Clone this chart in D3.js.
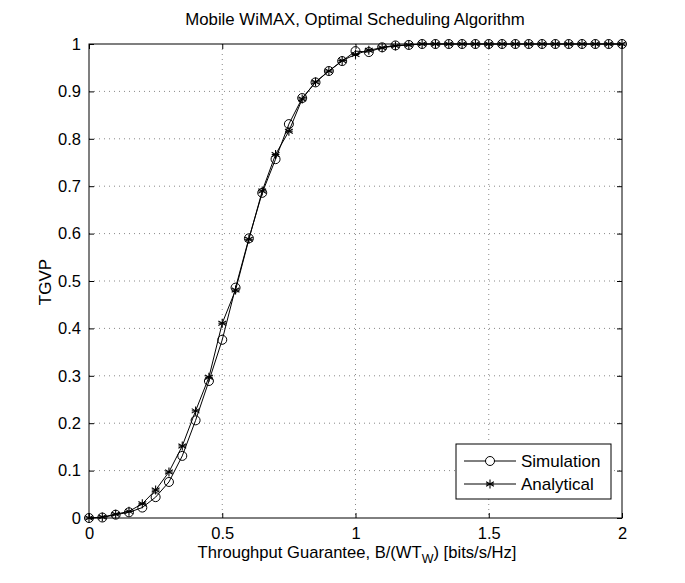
<!DOCTYPE html>
<html><head><meta charset="utf-8">
<script src="https://cdn.jsdelivr.net/npm/d3@7"></script>
<style>body{margin:0;background:#fff}svg{display:block}text{font-family:"Liberation Sans",Arial,sans-serif;fill:#000}</style>
</head><body><svg id="c" width="685" height="583"></svg>
<script>
const xValues = [0,0.05,0.1,0.15,0.2,0.25,0.3,0.35,0.4,0.45,0.5,0.55,0.6,0.65,0.7,0.75,0.8,0.85,0.9,0.95,1.0,1.05,1.1,1.15,1.2,1.25,1.3,1.35,1.4,1.45,1.5,1.55,1.6,1.65,1.7,1.75,1.8,1.85,1.9,1.95,2.0];
const simulation = [0,0.001,0.007,0.012,0.022,0.044,0.076,0.131,0.206,0.289,0.376,0.486,0.59,0.686,0.757,0.831,0.886,0.919,0.943,0.964,0.985,0.983,0.993,0.997,0.998,1,1,1,1,1,1,1,1,1,1,1,1,1,1,1,1];
const analytical = [0,0.002,0.008,0.014,0.03,0.059,0.097,0.152,0.226,0.297,0.411,0.481,0.588,0.69,0.767,0.816,0.884,0.92,0.943,0.965,0.978,0.987,0.992,0.996,0.998,1,1,1,1,1,1,1,1,1,1,1,1,1,1,1,1];
const xTicks = [0,0.5,1,1.5,2];
const yTicks = [0,0.1,0.2,0.3,0.4,0.5,0.6,0.7,0.8,0.9,1];
const seriesNames = ["Simulation","Analytical"];
const title = "Mobile WiMAX, Optimal Scheduling Algorithm";

const svg = d3.select("#c");
const L=89,R=622,T=44,B=518;
const x = d3.scaleLinear().domain([0,2]).range([L,R]);
const y = d3.scaleLinear().domain([0,1]).range([B,T]);

// grid
const g = svg.append("g");
g.selectAll(".gx").data(xTicks.slice(1,-1)).join("line")
 .attr("x1",d=>x(d)).attr("x2",d=>x(d)).attr("y1",T).attr("y2",B)
 .attr("stroke","#888").attr("stroke-width",1).attr("stroke-dasharray","1,4");
g.selectAll(".gy").data(yTicks.slice(1,-1)).join("line")
 .attr("y1",d=>y(d)).attr("y2",d=>y(d)).attr("x1",L).attr("x2",R)
 .attr("stroke","#888").attr("stroke-width",1).attr("stroke-dasharray","1,4");

// axes
const ax = d3.axisBottom(x).tickValues(xTicks).tickSize(-5).tickPadding(9).tickFormat(d3.format("~g"));
const ay = d3.axisLeft(y).tickValues(yTicks).tickSize(-5).tickPadding(8).tickFormat(d3.format("~g"));
const axT = d3.axisTop(x).tickValues(xTicks).tickSize(-5).tickFormat("");
const ayR = d3.axisRight(y).tickValues(yTicks).tickSize(-5).tickFormat("");
function style(s){s.select(".domain").remove();s.selectAll("line").attr("stroke","#000");s.selectAll("text").attr("font-size",16.5).attr("font-family","Liberation Sans, Arial, sans-serif");}
svg.append("g").attr("transform",`translate(0,${B})`).call(ax).call(style);
svg.append("g").attr("transform",`translate(${L},0)`).call(ay).call(style);
svg.append("g").attr("transform",`translate(0,${T})`).call(axT).call(style);
svg.append("g").attr("transform",`translate(${R},0)`).call(ayR).call(style);
svg.append("rect").attr("x",L).attr("y",T).attr("width",R-L).attr("height",B-T).attr("fill","none").attr("stroke","#000").attr("stroke-width",1);

// lines
const line = d3.line().x((d,i)=>x(xValues[i])).y(d=>y(d));
[simulation,analytical].forEach(s=>{
  svg.append("path").datum(s).attr("d",line).attr("fill","none").attr("stroke","#000").attr("stroke-width",1);
});
function star(sel,cx,cy,r){
  const a=[0,60,120].map(t=>t*Math.PI/180);
  a.forEach(t=>sel.append("line").attr("x1",cx-r*Math.sin(t)).attr("y1",cy-r*Math.cos(t)).attr("x2",cx+r*Math.sin(t)).attr("y2",cy+r*Math.cos(t)).attr("stroke","#000").attr("stroke-width",1.1));
  sel.append("line").attr("x1",cx-r*0.85).attr("x2",cx+r*0.85).attr("y1",cy).attr("y2",cy).attr("stroke","#000").attr("stroke-width",1.1);
}
const mk = svg.append("g");
simulation.forEach((v,i)=>mk.append("circle").attr("cx",x(xValues[i])).attr("cy",y(v)).attr("r",4.5).attr("fill","none").attr("stroke","#000").attr("stroke-width",1));
analytical.forEach((v,i)=>star(mk,x(xValues[i]),y(v),4.5));

// legend
const lg = svg.append("g");
lg.append("rect").attr("x",456).attr("y",444).attr("width",155).attr("height",55).attr("fill","#fff").attr("stroke","#000").attr("stroke-width",1);
[0,1].forEach(i=>{
  const yy = 461+i*23;
  lg.append("line").attr("x1",464).attr("x2",516).attr("y1",yy).attr("y2",yy).attr("stroke","#000");
  if(i===0) lg.append("circle").attr("cx",490).attr("cy",yy).attr("r",4.5).attr("fill","#fff").attr("stroke","#000");
  else star(lg,490,yy,4.5);
  lg.append("text").attr("x",521).attr("y",yy+6).attr("font-size",17).text(seriesNames[i]);
});

// title & labels
svg.append("text").attr("x",355).attr("y",25).attr("text-anchor","middle").attr("font-size",16.8).text(title);
const xl = svg.append("text").attr("x",357).attr("y",558).attr("text-anchor","middle").attr("font-size",16.6);
xl.append("tspan").text("Throughput Guarantee, B/(WT");
xl.append("tspan").attr("font-size",12.5).attr("dy",5).text("W");
xl.append("tspan").attr("dy",-5).text(") [bits/s/Hz]");
svg.append("text").attr("transform","translate(51,282) rotate(-90)").attr("text-anchor","middle").attr("font-size",17).text("TGVP");
</script></body></html>
